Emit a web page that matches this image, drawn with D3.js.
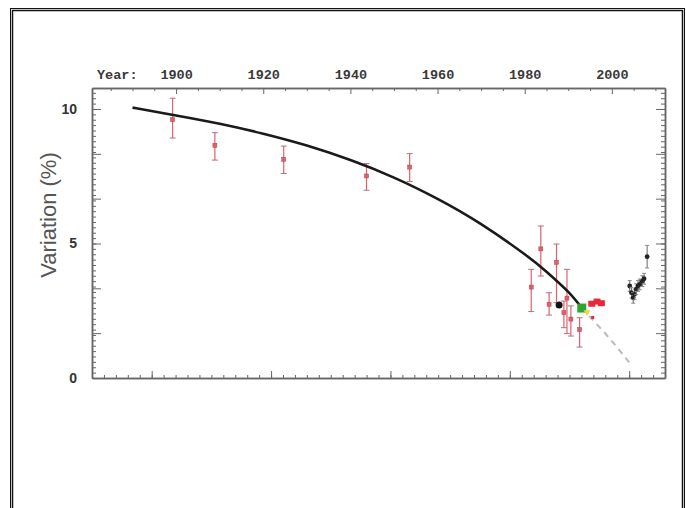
<!DOCTYPE html>
<html>
<head>
<meta charset="utf-8">
<script src="https://cdn.jsdelivr.net/npm/d3@7"></script>
<style>
  body { margin: 0; background: #fff; }
  svg { display: block; }
</style>
</head>
<body>
<svg class="chart-svg"></svg>
<script>
const WIDTH = 686;
const HEIGHT = 508;

// fitted trend
const fitYears = [1890, 1900, 1910, 1920, 1930, 1940, 1950, 1960, 1970, 1980, 1985, 1990, 1993.1];
const fitValues = [10.05, 9.76, 9.45, 9.08, 8.64, 8.1, 7.45, 6.66, 5.72, 4.6, 3.95, 3.2, 2.6];
const dashYears = [1993.1, 1997, 2001, 2004.6];
const dashValues = [2.6, 1.92, 1.18, 0.45];

// red measurements with error bars
const redYears = [1899.2, 1908.9, 1924.7, 1943.7, 1953.6, 1981.5, 1983.7, 1985.6, 1987.3, 1989.0, 1989.7, 1990.6, 1992.6];
const redValues = [9.6, 8.65, 8.13, 7.51, 7.84, 3.38, 4.8, 2.74, 4.3, 2.43, 2.97, 2.19, 1.8];
const redLow = [8.92, 8.1, 7.6, 6.98, 7.3, 2.47, 3.79, 2.34, 2.8, 1.87, 1.65, 1.56, 1.15];
const redHigh = [10.4, 9.12, 8.62, 7.97, 8.34, 4.04, 5.65, 3.17, 4.98, 2.86, 4.04, 2.68, 2.24];

// red markers without bars
const redDotYears = [1995.4, 1996.6, 1997.6, 1995.6];
const redDotValues = [2.76, 2.84, 2.78, 2.25];

// recent black measurements
const blackYears = [2004.1, 2004.5, 2004.9, 2005.2, 2005.6, 2006.0, 2006.4, 2007.0, 2007.4, 2008.1];
const blackValues = [3.42, 3.17, 2.98, 3.11, 3.3, 3.42, 3.48, 3.6, 3.69, 4.51];
const blackErr = [0.2, 0.2, 0.2, 0.2, 0.2, 0.2, 0.2, 0.2, 0.2, 0.42];

const blackBigYear = 1987.9, blackBigValue = 2.71;
const greenYear = 1993.1, greenValue = 2.6;
const yellowYear = 1994.3, yellowValue = 2.45;

// axis ticks
const yearMajor = [1900, 1920, 1940, 1960, 1980, 2000];
const yearMinor = [1885, 1890, 1895, 1905, 1910, 1915, 1925, 1930, 1935, 1945, 1950, 1955,
  1965, 1970, 1975, 1985, 1990, 1995, 2005, 2010];
const yMajor = [0, 5 / 3, 10 / 3, 5, 20 / 3, 25 / 3, 10];
const yLabels = [0, 5, 10];
const bottomMajor = [1, 2, 3, 4, 5];

const svg = d3.select(".chart-svg").attr("width", WIDTH).attr("height", HEIGHT);

// frame
svg.append("rect").attr("x", 10.5).attr("y", 8.5).attr("width", 674).attr("height", 520)
  .attr("fill", "none").attr("stroke", "#111").attr("stroke-width", 1);
svg.append("rect").attr("x", 12.5).attr("y", 10.5).attr("width", 670).attr("height", 520)
  .attr("fill", "none").attr("stroke", "#111").attr("stroke-width", 1.5);

const L = 92, R = 665, T = 88, B = 378;

const x = d3.scaleLinear().domain([1880.7, 2012.2]).range([L, R]);
const y = d3.scaleLinear().domain([0, 10.78]).range([B, T]);
const xb = d3.scaleLinear().domain([0.5, 5.3]).range([L, R]);

const AXIS = "#666";

const styleAxis = g => {
  g.selectAll("path.domain").attr("stroke", AXIS).attr("stroke-width", 1.5);
  g.selectAll(".tick line").attr("stroke", AXIS).attr("stroke-width", 1);
};

// top axis (years)
svg.append("g").attr("transform", `translate(0,${T})`)
  .call(d3.axisTop(x).tickValues(yearMinor).tickSizeInner(-3).tickSizeOuter(0).tickFormat(""))
  .call(styleAxis);
const topAxis = svg.append("g").attr("transform", `translate(0,${T})`)
  .call(d3.axisTop(x).tickValues(yearMajor).tickSizeInner(-6).tickSizeOuter(0).tickPadding(9).tickFormat(d3.format("d")))
  .call(styleAxis);
topAxis.selectAll(".tick text")
  .attr("font-family", "'Liberation Mono', 'DejaVu Sans Mono', monospace")
  .attr("font-weight", "bold").attr("font-size", 13.5).attr("fill", "#3a3a3a");

svg.append("text").attr("x", 97).attr("y", 79)
  .attr("font-family", "'Liberation Mono', 'DejaVu Sans Mono', monospace")
  .attr("font-weight", "bold").attr("font-size", 13.5).attr("fill", "#3a3a3a")
  .text("Year:");

// bottom axis (unlabelled ticks)
svg.append("g").attr("transform", `translate(0,${B})`)
  .call(d3.axisTop(xb).ticks(48).tickSizeInner(3).tickSizeOuter(0).tickFormat(""))
  .call(styleAxis);
svg.append("g").attr("transform", `translate(0,${B})`)
  .call(d3.axisTop(xb).tickValues(bottomMajor).tickSizeInner(7).tickSizeOuter(0).tickFormat(""))
  .call(styleAxis);

// left axis
svg.append("g").attr("transform", `translate(${L},0)`)
  .call(d3.axisLeft(y).ticks(64).tickSizeInner(-4).tickSizeOuter(0).tickFormat(""))
  .call(styleAxis);
svg.append("g").attr("transform", `translate(${L},0)`)
  .call(d3.axisLeft(y).tickValues(yMajor).tickSizeInner(-9).tickSizeOuter(0).tickFormat(""))
  .call(styleAxis);
const leftLabels = svg.append("g").attr("transform", `translate(${L},0)`)
  .call(d3.axisLeft(y).tickValues(yLabels).tickSize(0).tickPadding(15));
leftLabels.select("path.domain").remove();
leftLabels.selectAll(".tick text")
  .attr("font-family", "'Liberation Sans', Arial, sans-serif")
  .attr("font-weight", "bold").attr("font-size", 14).attr("fill", "#333");

// right axis
svg.append("g").attr("transform", `translate(${R},0)`)
  .call(d3.axisRight(y).ticks(64).tickSizeInner(-4).tickSizeOuter(0).tickFormat(""))
  .call(styleAxis);
svg.append("g").attr("transform", `translate(${R},0)`)
  .call(d3.axisRight(y).tickValues(yMajor).tickSizeInner(-9).tickSizeOuter(0).tickFormat(""))
  .call(styleAxis);

// y title
svg.append("text")
  .attr("transform", "translate(56,215) rotate(-90)")
  .attr("text-anchor", "middle")
  .attr("font-family", "'Liberation Sans', Arial, sans-serif")
  .attr("font-size", 22).attr("fill", "#555")
  .text("Variation (%)");

// dashed extrapolation
const line = d3.line().x(d => x(d[0])).y(d => y(d[1])).curve(d3.curveNatural);
svg.append("path")
  .datum(d3.zip(dashYears, dashValues))
  .attr("d", line)
  .attr("fill", "none").attr("stroke", "#bbb").attr("stroke-width", 2)
  .attr("stroke-dasharray", "6,5");

// red error bars
const RED = "#e0606a";
const red = svg.append("g").selectAll("g").data(d3.range(redYears.length)).join("g");
red.append("line")
  .attr("x1", i => x(redYears[i])).attr("x2", i => x(redYears[i]))
  .attr("y1", i => y(redLow[i])).attr("y2", i => y(redHigh[i]))
  .attr("stroke", RED).attr("stroke-width", 1.2);
red.append("line")
  .attr("x1", i => x(redYears[i]) - 3).attr("x2", i => x(redYears[i]) + 3)
  .attr("y1", i => y(redLow[i])).attr("y2", i => y(redLow[i]))
  .attr("stroke", "#b07080").attr("stroke-width", 1);
red.append("line")
  .attr("x1", i => x(redYears[i]) - 3).attr("x2", i => x(redYears[i]) + 3)
  .attr("y1", i => y(redHigh[i])).attr("y2", i => y(redHigh[i]))
  .attr("stroke", "#b07080").attr("stroke-width", 1);
red.append("rect")
  .attr("x", i => x(redYears[i]) - 2).attr("y", i => y(redValues[i]) - 2)
  .attr("width", 4).attr("height", 4)
  .attr("fill", RED).attr("stroke", "#b04050").attr("stroke-width", 0.5);

svg.append("g").selectAll("rect").data(d3.range(redDotYears.length)).join("rect")
  .attr("x", i => x(redDotYears[i]) - (i < 3 ? 3.5 : 1.5))
  .attr("y", i => y(redDotValues[i]) - (i < 3 ? 3 : 1.5))
  .attr("width", i => (i < 3 ? 7 : 3)).attr("height", i => (i < 3 ? 6 : 3))
  .attr("fill", "#e8283a");

// black fit
svg.append("path")
  .datum(d3.zip(fitYears, fitValues))
  .attr("d", line)
  .attr("fill", "none").attr("stroke", "#1a1a1a").attr("stroke-width", 2.6);

// big black point
svg.append("circle").attr("cx", x(blackBigYear)).attr("cy", y(blackBigValue)).attr("r", 3.5)
  .attr("fill", "#111");

// green and yellow markers
svg.append("rect").attr("x", x(greenYear) - 4.5).attr("y", y(greenValue) - 4.5)
  .attr("width", 9).attr("height", 9).attr("fill", "#2fa52f");
svg.append("path")
  .attr("d", d3.symbol(d3.symbolTriangle, 20)())
  .attr("transform", `translate(${x(yellowYear)},${y(yellowValue)}) rotate(180)`)
  .attr("fill", "#e8d84a");

// recent black points
const blk = svg.append("g").selectAll("g").data(d3.range(blackYears.length)).join("g");
blk.append("line")
  .attr("x1", i => x(blackYears[i])).attr("x2", i => x(blackYears[i]))
  .attr("y1", i => y(blackValues[i] - blackErr[i])).attr("y2", i => y(blackValues[i] + blackErr[i]))
  .attr("stroke", "#666").attr("stroke-width", 1);
blk.append("line")
  .attr("x1", i => x(blackYears[i]) - 2).attr("x2", i => x(blackYears[i]) + 2)
  .attr("y1", i => y(blackValues[i] + blackErr[i])).attr("y2", i => y(blackValues[i] + blackErr[i]))
  .attr("stroke", "#888").attr("stroke-width", 1);
blk.append("line")
  .attr("x1", i => x(blackYears[i]) - 2).attr("x2", i => x(blackYears[i]) + 2)
  .attr("y1", i => y(blackValues[i] - blackErr[i])).attr("y2", i => y(blackValues[i] - blackErr[i]))
  .attr("stroke", "#888").attr("stroke-width", 1);
blk.append("circle")
  .attr("cx", i => x(blackYears[i])).attr("cy", i => y(blackValues[i]))
  .attr("r", 2.4).attr("fill", "#222");
</script>
</body>
</html>
